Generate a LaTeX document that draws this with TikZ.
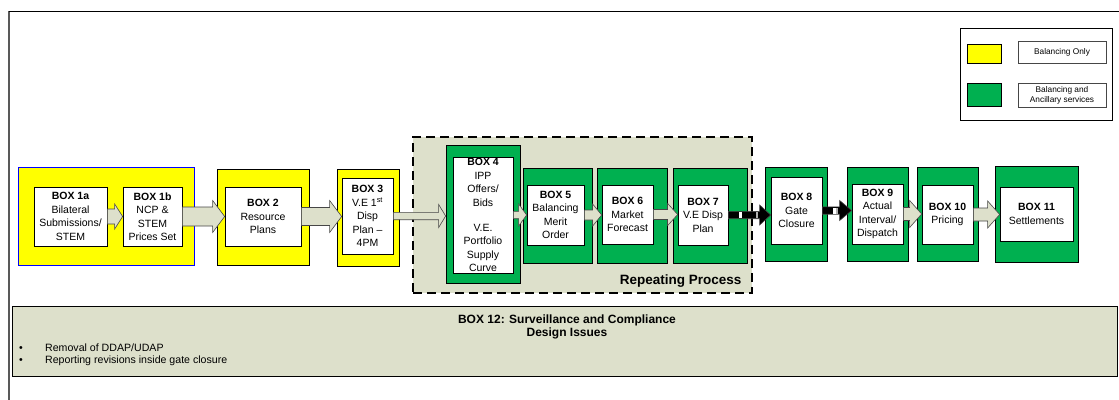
\documentclass[tikz,border=0pt]{standalone}
\usepackage{fontspec}
\setmainfont{Liberation Sans}
\usetikzlibrary{calc,fit}

\definecolor{boxyellow}{RGB}{255,255,0}
\definecolor{boxgreen}{RGB}{0,176,80}
\definecolor{olivegray}{RGB}{221,224,203}
\definecolor{arrowline}{RGB}{70,70,70}

% block arrow: fill, from, to, half shaft, half head, head length
\newcommand{\blockarrow}[6]{%
  \filldraw[fill=#1, draw=arrowline, line width=0.6pt]
    let \p1=(#2.east), \p2=(#3.west) in
    (\x1,\y1+#4) -- (\x2-#6,\y1+#4) -- (\x2-#6,\y1+#5) -- (\x2,\y1)
    -- (\x2-#6,\y1-#5) -- (\x2-#6,\y1-#4) -- (\x1,\y1-#4) -- cycle;
}
% black arrow with light bars on the shaft
\newcommand{\blackarrow}[5]{%
  \blockarrow{black}{#1}{#2}{#3}{#4}{#5}
  \fill[white] let \p1=(#1.east) in
    (\x1+11pt,\y1-#3+0.7pt) rectangle (\x1+14pt,\y1+#3-0.7pt);
  \fill[gray!60] let \p1=(#1.east), \p2=(#2.west) in
    (\x2-#5-4pt,\y1-#3+0.7pt) rectangle (\x2-#5-2pt,\y1+#3-0.7pt);
}

\begin{document}
\begin{tikzpicture}[x=1pt, y=-1pt,
    every node/.style={font=\fontsize{10.5}{13.5}\selectfont},
    txtbox/.style={draw=black, fill=white, align=center, inner sep=0pt, line width=0.7pt},
    yelbox/.style={draw=black, fill=boxyellow, inner sep=0pt, line width=0.7pt},
    grnbox/.style={draw=black, fill=boxgreen, inner sep=0pt, line width=0.7pt},
    legtext/.style={draw=arrowline, fill=white, align=center, inner sep=0pt,
      font=\fontsize{8.3}{10}\selectfont}]
    \useasboundingbox (0,0) rectangle (1119,399);

    % outer frame
    \draw[gray!70!black, line width=1.5pt] (9,405) -- (9,11);
    \draw[line width=0.9pt] (8.5,11) -- (1125,11);

    % legend
    \node[draw=black, line width=0.8pt, inner sep=0pt, fit={(960,28) (1112,120)}] (legend) {};
    \node[yelbox, fit={(967,44) (1001,63)}] (swyel) {};
    \node[grnbox, fit={(967,83) (1001,106)}] (swgrn) {};
    \node[legtext, minimum width=88pt, minimum height=22pt] (lgyel) at (1062,52) {Balancing Only};
    \node[legtext, minimum width=88pt, minimum height=24pt] (lggrn) at (1062,95) {Balancing and\\Ancillary services};

    % box 12
    \node[draw=black, fill=olivegray, line width=0.8pt, inner sep=0pt, fit={(12,306) (1117,376)}] (b12) {};
    \node[font=\bfseries\fontsize{12}{12.5}\selectfont, align=center] (b12title) at (567,327)
        {BOX 12: Surveillance and Compliance\\Design Issues};
    \node[anchor=west, inner sep=0pt, font=\fontsize{10.6}{12}\selectfont] (b12list) at (19,355)
        {\begin{tabular}{@{}p{26pt}@{}l@{}}
            \textbullet & Removal of DDAP/UDAP\\
            \textbullet & Reporting revisions inside gate closure
        \end{tabular}};

    % repeating process area
    \node[draw=black, fill=olivegray, line width=2.6pt, dash pattern=on 9pt off 5pt,
        inner sep=0pt, fit={(413,137) (752,293)}] (repeat) {};
    \node[font=\bfseries\fontsize{13.5}{15}\selectfont, anchor=east] (replabel) at (745,281) {Repeating Process};

    % coloured backgrounds
    \node[yelbox, draw=blue, fit={(18,167) (194,265)}] (o1) {};
    \node[yelbox, fit={(217,169) (309,265)}] (o2) {};
    \node[yelbox, fit={(337,169) (399,266)}] (o3) {};
    \node[grnbox, fit={(446,145) (520,283)}] (o4) {};
    \node[grnbox, fit={(523,168) (592,263)}] (o5) {};
    \node[grnbox, fit={(597,168) (667,263)}] (o6) {};
    \node[grnbox, fit={(673,168) (747,263)}] (o7) {};
    \node[grnbox, fit={(765,167) (827,261)}] (o8) {};
    \node[grnbox, fit={(847,167) (908,261)}] (o9) {};
    \node[grnbox, fit={(917,167) (978,261)}] (o10) {};
    \node[grnbox, fit={(995,166) (1078,262)}] (o11) {};

    % boxes
    \node[txtbox, minimum width=73pt, minimum height=59pt] (b1a) at (70.5,216.5)
        {\textbf{BOX 1a}\\Bilateral\\Submissions/\\STEM};
    \node[txtbox, minimum width=59pt, minimum height=59pt] (b1b) at (152.5,216.5)
        {\textbf{BOX 1b}\\NCP \&\\STEM\\Prices Set};
    \node[txtbox, minimum width=76pt, minimum height=59pt] (b2) at (263,216.5)
        {\textbf{BOX 2}\\Resource\\Plans};
    \node[txtbox, minimum width=51pt, minimum height=76pt] (b3) at (367.5,216)
        {\textbf{BOX 3}\\V.E 1\textsuperscript{st}\\Disp\\Plan --\\4PM};
    \node[txtbox, minimum width=60pt, minimum height=116pt] (b4) at (483,215)
        {\textbf{BOX 4}\\IPP\\Offers/\\Bids\\[11.5pt]V.E.\\Portfolio\\Supply\\Curve};
    \node[txtbox, minimum width=57pt, minimum height=60pt] (b5) at (555.5,215)
        {\textbf{BOX 5}\\Balancing\\Merit\\Order};
    \node[txtbox, minimum width=51pt, minimum height=59pt] (b6) at (627.5,214.5)
        {\textbf{BOX 6}\\Market\\Forecast};
    \node[txtbox, minimum width=50pt, minimum height=60pt] (b7) at (703,215)
        {\textbf{BOX 7}\\V.E Disp\\Plan};
    \node[txtbox, minimum width=51pt, minimum height=67pt] (b8) at (796.5,210.5)
        {\textbf{BOX 8}\\Gate\\Closure};
    \node[txtbox, minimum width=51pt, minimum height=60pt] (b9) at (877.5,214)
        {\textbf{BOX 9}\\Actual\\Interval/\\Dispatch};
    \node[txtbox, minimum width=51pt, minimum height=59pt] (b10) at (947.5,214.5)
        {\textbf{BOX 10}\\Pricing};
    \node[txtbox, minimum width=73pt, minimum height=54pt] (b11) at (1036.5,214)
        {\textbf{BOX 11}\\Settlements};

    % arrows
    \blockarrow{olivegray}{b1a}{b1b}{7.5pt}{12.5pt}{8pt}
    \blockarrow{olivegray}{b1b}{b2}{9.5pt}{16pt}{12pt}
    \blockarrow{olivegray}{b2}{b3}{9pt}{16pt}{12pt}
    \blockarrow{olivegray}{b3}{o4}{3.7pt}{11.5pt}{7pt}
    \blockarrow{olivegray}{b4}{b5}{3.7pt}{11pt}{8pt}
    \blockarrow{olivegray}{b5}{b6}{5pt}{11pt}{9pt}
    \blockarrow{olivegray}{b6}{b7}{5pt}{11pt}{10pt}
    \blackarrow{b7}{b8}{3.7pt}{10pt}{11pt}
    \blackarrow{b8}{b9}{3.7pt}{10pt}{12pt}
    \blockarrow{olivegray}{b9}{b10}{6.5pt}{13.5pt}{12pt}
    \blockarrow{olivegray}{b10}{b11}{6.5pt}{13.5pt}{12pt}
\end{tikzpicture}
\end{document}
